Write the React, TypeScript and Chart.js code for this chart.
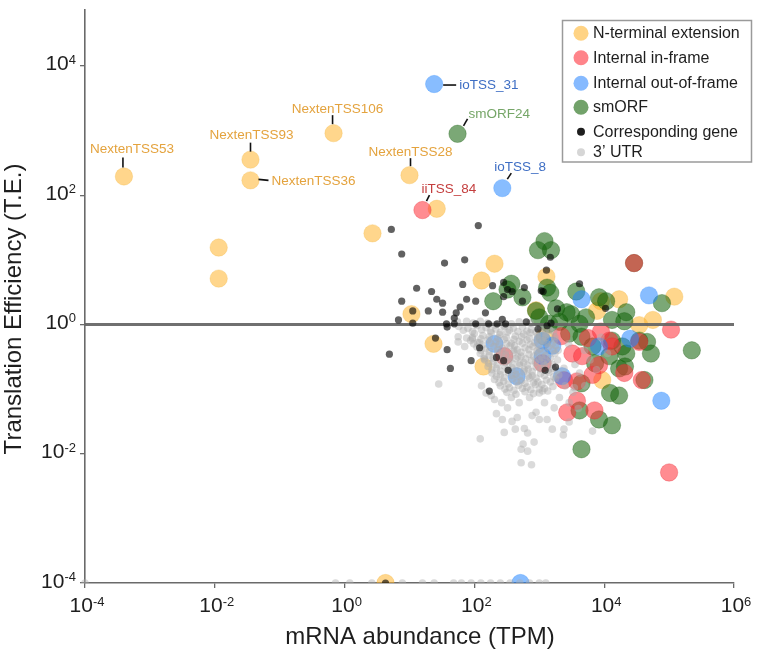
import React, { useEffect, useRef } from 'react';
import { Chart, registerables } from 'chart.js';

Chart.register(...registerables);

const FONT = "'Liberation Sans', Arial, Helvetica, sans-serif";

// ---- axes (values are log10 of TPM / T.E.) ----
const xTickExponents = [-4, -2, 0, 2, 4, 6];
const yTickExponents = [-4, -2, 0, 2, 4];
const xRange = [-4, 6];
const yRange = [-4, 4.87];
const unityLineX = [-4, 6];
const unityLineY = [0, 0];

const seriesLabels = [
  'N-terminal extension',
  'Internal in-frame',
  'Internal out-of-frame',
  'smORF',
  'Corresponding gene',
  '3\u2019 UTR',
];

// [log10 TPM, log10 T.E.]
const ntermPoints: number[][] = [
  [-3.40, 2.29], [-1.94, 1.19], [-1.94, 0.71], [-1.45, 2.55], [-1.45, 2.23],
  [-0.17, 2.96], [0.43, 1.41], [1.00, 2.31], [1.42, 1.79], [1.03, 0.16],
  [1.37, -0.30], [2.11, 0.68], [2.31, 0.94], [2.14, -0.65], [3.11, 0.74],
  [2.95, 0.22], [3.95, 0.36], [4.23, 0.39], [4.54, -0.01], [4.75, 0.07],
  [5.08, 0.43], [3.97, -0.86], [3.89, 0.21], [3.08, -0.19], [0.63, -4.0],
];

const inFramePoints: number[][] = [
  [1.20, 1.77], [4.46, 0.95], [5.03, -0.08], [3.34, -0.18], [3.51, -0.45],
  [3.66, -0.49], [3.75, -0.21], [3.95, -0.11], [4.08, -0.25], [4.12, -0.34],
  [3.82, -0.78], [3.58, -0.88], [3.92, -0.63], [4.31, -0.75], [4.58, -0.86],
  [4.54, -0.27], [3.05, -0.60], [3.58, -1.18], [3.43, -1.36], [3.85, -1.33],
  [5.00, -2.29], [2.46, -0.49], [3.38, -0.86],
];

const outFramePoints: number[][] = [
  [1.38, 3.72], [2.43, 2.11], [3.65, 0.39], [4.69, 0.45], [4.40, -0.22],
  [3.92, -0.34], [4.88, -1.18], [3.20, -0.33], [3.05, -0.25], [3.35, -0.80],
  [2.65, -0.80], [2.31, -0.30], [3.05, -0.49], [2.71, -4.0],
];

const smorfPoints: number[][] = [
  [1.74, 2.95], [3.08, 1.29], [2.98, 1.15], [3.18, 1.15], [2.57, 0.63],
  [2.51, 0.54], [2.74, 0.42], [2.29, 0.36], [3.12, 0.57], [3.17, 0.49],
  [3.26, 0.25], [3.42, 0.19], [3.57, 0.51], [3.49, 0.16], [3.72, 0.11],
  [3.62, 0.01], [3.92, 0.42], [4.12, 0.07], [4.34, 0.19], [4.31, 0.05],
  [4.89, 0.33], [4.12, -0.25], [4.28, -0.34], [4.34, -0.45], [4.54, -0.25],
  [4.66, -0.27], [4.72, -0.45], [4.23, -0.68], [4.08, -0.49], [3.82, -0.34],
  [3.65, -0.19], [3.46, -0.14], [3.31, 0.04], [3.15, 0.01], [3.00, 0.11],
  [4.09, -1.06], [4.23, -1.10], [4.62, -0.86], [3.62, -1.33], [3.92, -1.47],
  [4.12, -1.56], [3.65, -1.93], [5.35, -0.40], [2.95, 0.21], [4.03, 0.36],
  [4.46, 0.95], [4.32, -0.65], [3.65, -0.91], [3.86, -0.60],
];

const genePoints: number[][] = [
  [0.72, 1.47], [2.06, 1.53], [0.88, 1.09], [1.54, 0.95], [1.85, 1.00],
  [1.82, 0.62], [1.11, 0.56], [1.34, 0.51], [0.88, 0.36], [1.42, 0.39],
  [1.51, 0.33], [1.88, 0.39], [2.02, 0.36], [1.78, 0.27], [1.29, 0.21],
  [1.51, 0.19], [1.72, 0.18], [1.05, 0.21], [0.83, 0.07], [1.05, 0.02],
  [1.69, 0.10], [2.17, 0.18], [2.28, 0.60], [2.45, 0.65], [2.51, 0.54],
  [2.45, 0.43], [2.58, 0.51], [2.77, 0.57], [2.74, 0.36], [3.03, 0.52],
  [3.11, 0.84], [3.17, 1.04], [1.57, 0.01], [1.58, -0.04], [1.69, 0.01],
  [2.02, 0.01], [2.22, 0.01], [2.35, 0.01], [2.48, 0.01], [2.43, 0.08],
  [2.80, 0.04], [2.98, -0.07], [1.40, -0.21], [0.69, -0.46], [1.58, -0.39],
  [1.63, -0.68], [1.95, -0.56], [2.08, -0.36], [2.34, -0.51], [2.45, -0.56],
  [2.52, -0.71], [3.09, -0.71], [2.23, -1.03], [3.62, 0.63], [4.02, 0.25],
  [3.28, 0.24], [3.06, 0.51], [3.18, 0.02], [3.12, -0.02], [3.25, -0.66],
  [0.63, -4.0],
];

const utrPoints: number[][] = [
  [1.76, -0.03], [1.90, -0.06], [2.04, -0.02], [2.18, -0.05], [2.33, -0.07], [2.47, -0.03],
  [2.60, -0.06], [2.74, -0.04], [2.88, -0.08], [3.02, -0.05], [3.16, -0.09],
  [1.83, -0.09], [1.97, -0.11], [2.11, -0.08], [2.25, -0.10], [2.40, -0.12], [2.54, -0.09],
  [2.67, -0.11], [2.81, -0.10], [2.95, -0.12], [3.09, -0.09], [3.22, -0.11],
  [2.00, -0.14], [2.13, -0.17], [2.26, -0.13], [2.39, -0.16], [2.51, -0.12], [2.63, -0.18],
  [2.76, -0.15], [2.86, -0.13], [2.97, -0.17], [3.10, -0.14], [3.24, -0.19],
  [1.97, -0.20], [2.10, -0.22], [2.23, -0.19], [2.36, -0.21], [2.49, -0.20], [2.61, -0.23],
  [2.73, -0.19], [2.85, -0.21], [2.97, -0.22], [3.10, -0.20], [3.24, -0.23],
  [1.94, -0.25], [2.08, -0.28], [2.21, -0.24], [2.33, -0.27], [2.46, -0.23], [2.57, -0.29],
  [2.69, -0.26], [2.81, -0.24], [2.93, -0.28], [3.06, -0.25], [3.20, -0.30],
  [1.99, -0.30], [2.12, -0.32], [2.25, -0.29], [2.38, -0.31], [2.50, -0.30], [2.62, -0.33],
  [2.74, -0.29], [2.86, -0.31], [2.98, -0.32], [3.12, -0.30], [3.25, -0.33],
  [2.04, -0.35], [2.17, -0.38], [2.30, -0.34], [2.43, -0.37], [2.55, -0.33], [2.66, -0.39],
  [2.78, -0.36], [2.90, -0.34], [3.01, -0.38], [3.14, -0.35], [3.29, -0.40],
  [2.10, -0.40], [2.23, -0.42], [2.36, -0.39], [2.49, -0.41], [2.61, -0.40], [2.72, -0.43],
  [2.84, -0.39], [2.96, -0.41], [3.08, -0.42], [3.21, -0.40],
  [2.09, -0.45], [2.23, -0.48], [2.36, -0.44], [2.48, -0.47], [2.61, -0.43], [2.72, -0.49],
  [2.84, -0.46], [2.97, -0.44], [3.10, -0.48], [3.24, -0.45],
  [2.15, -0.50], [2.29, -0.52], [2.42, -0.49], [2.55, -0.51], [2.67, -0.50], [2.79, -0.53],
  [2.91, -0.49], [3.04, -0.51], [3.17, -0.52],
  [2.16, -0.55], [2.29, -0.58], [2.41, -0.54], [2.53, -0.57], [2.64, -0.53], [2.76, -0.59],
  [2.88, -0.56], [3.00, -0.54], [3.13, -0.58], [3.28, -0.55],
  [2.22, -0.60], [2.35, -0.62], [2.47, -0.59], [2.59, -0.61], [2.70, -0.60], [2.82, -0.63],
  [2.94, -0.59], [3.07, -0.61], [3.20, -0.62],
  [2.21, -0.65], [2.34, -0.68], [2.46, -0.64], [2.58, -0.67], [2.70, -0.63], [2.83, -0.69],
  [2.95, -0.66], [3.08, -0.64], [3.21, -0.68],
  [2.27, -0.70], [2.40, -0.72], [2.52, -0.69], [2.64, -0.71], [2.77, -0.70], [2.89, -0.73],
  [3.02, -0.69], [3.14, -0.71], [3.27, -0.72],
  [2.27, -0.75], [2.40, -0.78], [2.52, -0.74], [2.64, -0.77], [2.76, -0.73], [2.89, -0.79],
  [3.02, -0.76], [3.15, -0.74], [3.30, -0.78],
  [2.34, -0.80], [2.46, -0.82], [2.58, -0.79], [2.70, -0.81], [2.83, -0.80], [2.95, -0.83],
  [3.08, -0.79], [3.22, -0.81],
  [2.31, -0.85], [2.45, -0.88], [2.59, -0.84], [2.72, -0.87], [2.85, -0.83], [2.98, -0.89],
  [3.11, -0.86], [3.25, -0.84],
  [2.38, -0.90], [2.52, -0.92], [2.65, -0.89], [2.78, -0.91], [2.91, -0.90], [3.04, -0.93],
  [3.17, -0.89],
  [2.40, -0.95], [2.54, -0.98], [2.68, -0.94], [2.81, -0.97], [2.94, -0.93], [3.08, -0.99], [3.21, -0.96],
  [2.47, -1.00], [2.61, -1.02], [2.74, -0.99], [2.87, -1.01], [3.00, -1.00], [3.13, -1.03],
  [2.50, -1.05], [2.64, -1.08], [2.78, -1.04], [2.91, -1.07], [3.05, -1.03],
  [1.45, -0.92], [2.09, -1.77], [2.34, -1.38], [2.43, -1.47], [2.72, -1.93], [2.75, -1.85],
  [2.82, -1.96], [2.72, -2.14], [2.88, -2.17], [2.58, -1.50], [2.66, -1.44], [2.63, -1.62],
  [2.77, -1.61], [2.82, -1.68], [2.95, -1.36], [3.00, -1.47], [2.89, -1.41], [2.11, -0.95],
  [2.18, -1.06], [2.26, -1.10], [2.31, -1.16], [2.42, -1.21], [2.51, -1.29], [1.75, -0.19],
  [1.88, -0.21], [1.75, -0.27], [1.85, -0.34], [1.97, -0.22], [2.05, -0.28], [3.20, -1.62],
  [3.38, -1.62], [3.37, -1.71], [3.82, -1.65], [3.12, -1.47], [3.46, -1.51], [2.46, -1.67],
  [2.92, -1.82], [3.08, -1.21], [3.23, -1.29], [2.57, -1.13], [2.69, -1.21], [2.85, -1.13],
  [3.00, -1.06], [3.31, -1.13], [3.46, -1.21], [3.54, -0.98], [3.38, -0.68], [2.15, -0.53],
  [3.45, -0.30], [3.55, -0.62], [3.62, -0.75], [3.70, -0.40], [3.78, -0.55], [3.88, -0.70],
  [3.95, -0.20], [4.05, -0.45], [3.52, -1.05], [3.70, -0.95], [3.40, -0.95], [3.60, -1.30],
  [1.74, 0.04], [1.88, 0.05], [1.98, 0.02], [2.09, 0.05], [2.20, 0.02], [2.31, -0.01],
  [2.45, -0.02], [2.57, 0.01], [2.69, 0.04], [2.86, 0.02],
  [-4.0, -4.0], [-0.14, -4.0], [0.08, -4.0], [0.42, -4.0], [0.89, -4.0], [1.20, -4.0],
  [1.38, -4.0], [1.68, -4.0], [1.80, -4.0], [1.95, -4.0], [2.10, -4.0], [2.25, -4.0],
  [2.40, -4.0], [2.55, -4.0], [2.70, -4.0], [2.85, -4.0], [3.00, -4.0], [3.10, -4.0],
];

// labelled points: name, series, index into that series
const labelledPoints = [
  { text: 'NextenTSS53', series: 'nterm', index: 0 },
  { text: 'NextenTSS93', series: 'nterm', index: 3 },
  { text: 'NextenTSS36', series: 'nterm', index: 4 },
  { text: 'NextenTSS106', series: 'nterm', index: 5 },
  { text: 'NextenTSS28', series: 'nterm', index: 7 },
  { text: 'iiTSS_84', series: 'inframe', index: 0 },
  { text: 'ioTSS_31', series: 'outframe', index: 0 },
  { text: 'smORF24', series: 'smorf', index: 0 },
  { text: 'ioTSS_8', series: 'outframe', index: 1 },
];

// ---- styles (kept apart from the data) ----
const seriesData: Record<string, number[][]> = {
  nterm: ntermPoints,
  inframe: inFramePoints,
  outframe: outFramePoints,
  smorf: smorfPoints,
  gene: genePoints,
  utr: utrPoints,
};

const textColors: Record<string, string> = {
  nterm: 'rgb(228,163,62)',
  inframe: 'rgb(196,62,62)',
  outframe: 'rgb(62,110,196)',
  smorf: 'rgb(118,166,104)',
};

const labelLayout: Record<string, { dx: number; dy: number; align: CanvasTextAlign; line: number[] }> = {
  NextenTSS53: { dx: 8, dy: -27, align: 'center', line: [-1, -19, -1, -9] },
  NextenTSS93: { dx: 1, dy: -24, align: 'center', line: [0, -17, 0, -8] },
  NextenTSS36: { dx: 21, dy: 1, align: 'left', line: [8, -1, 18, 0] },
  NextenTSS106: { dx: 4, dy: -24, align: 'center', line: [-1, -18, -1, -9] },
  NextenTSS28: { dx: 1, dy: -23, align: 'center', line: [1, -17, 1, -9] },
  iiTSS_84: { dx: -1, dy: -21, align: 'left', line: [4, -9, 7, -15] },
  ioTSS_31: { dx: 25, dy: 1, align: 'left', line: [9, 1, 22, 1] },
  smORF24: { dx: 11, dy: -20, align: 'left', line: [6, -8, 10, -15] },
  ioTSS_8: { dx: -8, dy: -21, align: 'left', line: [5, -9, 9, -15] },
};

const legendStyle = [
  { color: 'rgb(255,211,132)', r: 7.5 },
  { color: 'rgb(255,132,138)', r: 7.5 },
  { color: 'rgb(134,186,255)', r: 7.5 },
  { color: 'rgb(114,162,106)', r: 7.5 },
  { color: 'rgb(30,30,30)', r: 4 },
  { color: 'rgb(214,214,214)', r: 4 },
];
const legendRows = [33.3, 57.7, 83.3, 107.3, 131.7, 152.3];

const toXY = (pts: number[][]) => pts.map((p) => ({ x: p[0], y: p[1] }));

function drawPow(ctx: CanvasRenderingContext2D, exp: number, x: number, baseline: number, align: 'right' | 'center') {
  const base = '10';
  const sup = String(exp);
  ctx.font = `21px ${FONT}`;
  const wb = ctx.measureText(base).width;
  ctx.font = `13px ${FONT}`;
  const ws = ctx.measureText(sup).width;
  const left = align === 'right' ? x - wb - ws : x - (wb + ws) / 2;
  ctx.textAlign = 'left';
  ctx.textBaseline = 'alphabetic';
  ctx.font = `21px ${FONT}`;
  ctx.fillText(base, left, baseline);
  ctx.font = `13px ${FONT}`;
  ctx.fillText(sup, left + wb, baseline - 6.5);
}

const overlayPlugin = {
  id: 'overlay',
  afterDraw(chart: any) {
    const ctx: CanvasRenderingContext2D = chart.ctx;
    const xs = chart.scales.x;
    const ys = chart.scales.y;
    ctx.save();
    ctx.fillStyle = '#1e1e1e';
    yTickExponents.forEach((e) => drawPow(ctx, e, 76, ys.getPixelForValue(e) + 4.5, 'right'));
    xTickExponents.forEach((e) => drawPow(ctx, e, xs.getPixelForValue(e) + 2, 612, 'center'));

    // axis titles
    ctx.font = `24px ${FONT}`;
    ctx.textAlign = 'center';
    ctx.textBaseline = 'middle';
    ctx.fillText('mRNA abundance (TPM)', 420, 637);
    ctx.save();
    ctx.translate(14, 309);
    ctx.rotate(-Math.PI / 2);
    ctx.fillText('Translation Efficiency (T.E.)', 0, 0);
    ctx.restore();

    // annotations
    labelledPoints.forEach((lp) => {
      const p = seriesData[lp.series][lp.index];
      const px = xs.getPixelForValue(p[0]);
      const py = ys.getPixelForValue(p[1]);
      const lay = labelLayout[lp.text];
      ctx.strokeStyle = '#111';
      ctx.lineWidth = 1.6;
      ctx.beginPath();
      ctx.moveTo(px + lay.line[0], py + lay.line[1]);
      ctx.lineTo(px + lay.line[2], py + lay.line[3]);
      ctx.stroke();
      ctx.font = `13.5px ${FONT}`;
      ctx.fillStyle = textColors[lp.series];
      ctx.textAlign = lay.align;
      ctx.textBaseline = 'middle';
      ctx.fillText(lp.text, px + lay.dx, py + lay.dy);
    });

    // legend
    ctx.strokeStyle = '#9a9a9a';
    ctx.lineWidth = 1.5;
    ctx.fillStyle = '#ffffff';
    ctx.fillRect(562.5, 20.5, 189, 141.5);
    ctx.strokeRect(562.5, 20.5, 189, 141.5);
    seriesLabels.forEach((label, i) => {
      const st = legendStyle[i];
      ctx.beginPath();
      ctx.fillStyle = st.color;
      ctx.arc(581, legendRows[i], st.r, 0, Math.PI * 2);
      ctx.fill();
      ctx.fillStyle = '#1e1e1e';
      ctx.font = `16px ${FONT}`;
      ctx.textAlign = 'left';
      ctx.textBaseline = 'middle';
      ctx.fillText(label, 593, legendRows[i] + 0.5);
    });
    ctx.restore();
  },
};

const pointClip = { left: 20, top: 20, right: 20, bottom: 0 };

export default function App() {
  const ref = useRef<HTMLCanvasElement>(null);
  useEffect(() => {
    const canvas = ref.current;
    if (!canvas) return;
    const big = 8.7;
    const small = 3.6;
    const chart = new Chart(canvas, {
      type: 'scatter',
      data: {
        datasets: [
          {
            label: seriesLabels[4],
            data: toXY(genePoints),
            backgroundColor: 'rgba(0,0,0,0.62)',
            borderWidth: 0,
            pointRadius: small,
            clip: pointClip,
          } as any,
          {
            label: 'T.E. = 1',
            data: unityLineX.map((x, i) => ({ x, y: unityLineY[i] })),
            showLine: true,
            borderColor: 'rgba(100,100,100,0.92)',
            borderWidth: 3,
            pointRadius: 0,
          } as any,
          {
            label: seriesLabels[5],
            data: toXY(utrPoints),
            backgroundColor: 'rgba(172,172,172,0.45)',
            borderWidth: 0,
            pointRadius: 3.8,
            clip: pointClip,
          } as any,
          {
            label: seriesLabels[2],
            data: toXY(outFramePoints),
            backgroundColor: 'rgba(30,130,255,0.53)',
            borderColor: 'rgba(30,130,255,0.25)',
            borderWidth: 1,
            pointRadius: big,
            clip: pointClip,
          } as any,
          {
            label: seriesLabels[1],
            data: toXY(inFramePoints),
            backgroundColor: 'rgba(255,45,55,0.55)',
            borderColor: 'rgba(230,40,50,0.3)',
            borderWidth: 1,
            pointRadius: big,
            clip: pointClip,
          } as any,
          {
            label: seriesLabels[3],
            data: toXY(smorfPoints),
            backgroundColor: 'rgba(20,100,10,0.56)',
            borderColor: 'rgba(20,90,10,0.3)',
            borderWidth: 1,
            pointRadius: big,
            clip: pointClip,
          } as any,
          {
            label: seriesLabels[0],
            data: toXY(ntermPoints),
            backgroundColor: 'rgba(255,180,45,0.55)',
            borderColor: 'rgba(240,170,40,0.25)',
            borderWidth: 1,
            pointRadius: big,
            clip: pointClip,
          } as any,
        ],
      },
      options: {
        animation: false,
        responsive: false,
        devicePixelRatio: 1,
        layout: { padding: { top: 1, right: 23, bottom: 0, left: 0 } },
        plugins: { legend: { display: false }, tooltip: { enabled: false } },
        scales: {
          x: {
            type: 'linear',
            min: xRange[0],
            max: xRange[1],
            afterBuildTicks: (s: any) => {
              s.ticks = xTickExponents.map((v) => ({ value: v }));
            },
            afterFit: (s: any) => {
              s.height = 74;
            },
            ticks: { display: false },
            grid: { display: true, drawOnChartArea: false, drawTicks: true, tickLength: 5, color: '#6a6a6a', lineWidth: 1.3 },
            border: { display: true, color: '#6a6a6a', width: 1.6 },
          },
          y: {
            type: 'linear',
            min: yRange[0],
            max: yRange[1],
            afterBuildTicks: (s: any) => {
              s.ticks = yTickExponents.map((v) => ({ value: v }));
            },
            afterFit: (s: any) => {
              s.width = 85;
            },
            ticks: { display: false },
            grid: { display: true, drawOnChartArea: false, drawTicks: true, tickLength: 5, color: '#6a6a6a', lineWidth: 1.3 },
            border: { display: true, color: '#6a6a6a', width: 1.6 },
          },
        },
      } as any,
      plugins: [overlayPlugin],
    });
    return () => chart.destroy();
  }, []);

  return (
    <div style={{ position: 'fixed', left: 0, top: 0, width: 757, height: 657, background: '#ffffff' }}>
      <canvas ref={ref} width={757} height={657} style={{ display: 'block', width: 757, height: 657 }} />
    </div>
  );
}
